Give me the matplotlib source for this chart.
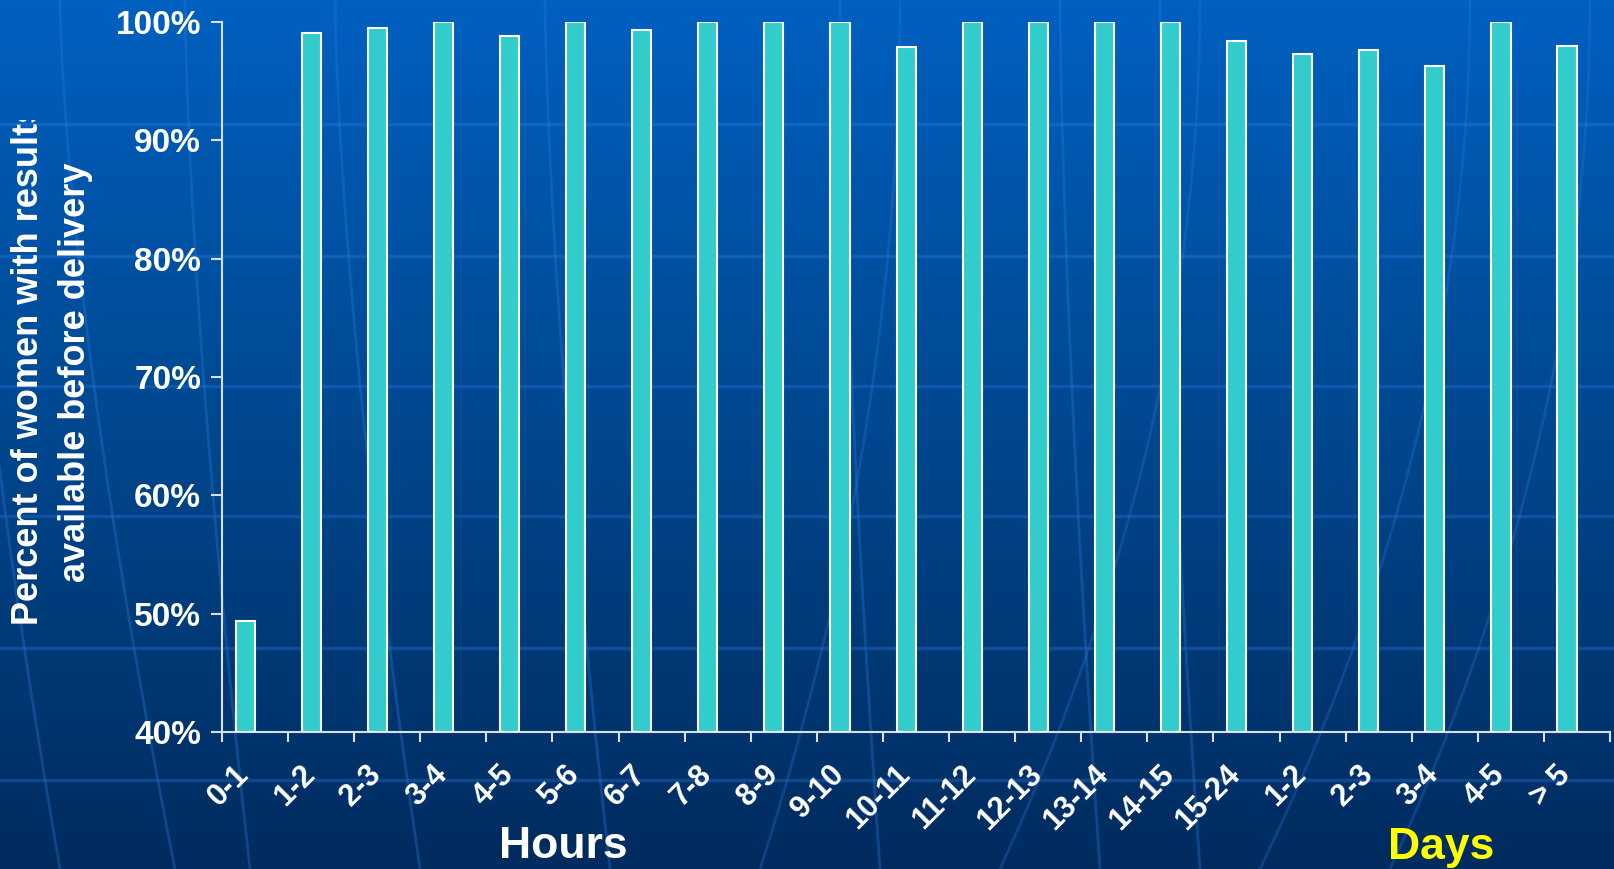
import numpy as np
import matplotlib
matplotlib.use("Agg")
import matplotlib.pyplot as plt
from matplotlib.colors import LinearSegmentedColormap
from matplotlib.transforms import Bbox, TransformedBbox

plt.rcParams['font.family'] = ['Liberation Sans', 'DejaVu Sans']

# categories: first 16 are hours, last 5 are days
categories = ['0-1', '1-2', '2-3', '3-4', '4-5', '5-6', '6-7', '7-8', '8-9', '9-10',
              '10-11', '11-12', '12-13', '13-14', '14-15', '15-24',
              '1-2', '2-3', '3-4', '4-5', '> 5']
percent = [49.4, 99.1, 99.5, 100.0, 98.8, 100.0, 99.3, 100.0, 100.0, 100.0,
           97.9, 100.0, 100.0, 100.0, 100.0, 98.4,
           97.3, 97.6, 96.3, 100.0, 98.0]
yticks = [40, 50, 60, 70, 80, 90, 100]

W, H = 1615, 869
fig = plt.figure(figsize=(W / 100, H / 100), dpi=100)

# slide background: vertical gradient with faint decoration
bg = fig.add_axes([0, 0, 1, 1], zorder=0)
cmap = LinearSegmentedColormap.from_list('slide', ['#002b5e', '#00478e', '#0060c0'])
grad = np.linspace(0, 1, 256).reshape(-1, 1)
bg.imshow(grad, cmap=cmap, aspect='auto', extent=[0, W, 0, H], origin='lower')
for yy in [124, 256, 386, 516, 648, 780]:
    bg.axhline(H - yy, color='#3a8cff', alpha=0.25, lw=2.5)
# globe-like meridians (decoration)
ys = np.linspace(0, H, 200)
for xa, xb in [(-40, 60), (60, 175), (185, 250), (335, 420), (545, 610),
               (840, 880), (1060, 1100), (1160, 1200)]:
    xs = xa + (xb - xa) * (1 - ys / H) ** 1.5
    bg.plot(xs, ys, color='#2a78d8', alpha=0.35, lw=2)
for xa, xb in [(1390, 1590), (1260, 1470), (1000, 1200), (760, 900)]:
    xs = xa + (xb - xa) * (1 - (ys / H - 1) ** 2)
    bg.plot(xs, ys, color='#2a78d8', alpha=0.3, lw=2)
bg.set_xlim(0, W)
bg.set_ylim(0, H)
bg.axis('off')

# main chart
left, right, top, bottom = 222, 1610, 22, 732
ax = fig.add_axes([left / W, 1 - bottom / H, (right - left) / W, (bottom - top) / H], zorder=2)
ax.patch.set_alpha(0)

x = np.arange(len(categories)) + 0.35
ax.bar(x, [p - 40 for p in percent], bottom=40, width=0.29,
       color='#33cccc', edgecolor='white', linewidth=1.5, zorder=3)

ax.set_xlim(0, len(categories))
ax.set_ylim(40, 100)
ax.set_yticks(yticks)
ax.set_yticklabels(['%d%%' % v for v in yticks])

ax.set_xticks(np.arange(len(categories) + 1))
ax.set_xticklabels([])
ax.set_xticks(x - 0.17, minor=True)
ax.set_xticklabels(categories, minor=True, rotation=45, ha='right', va='top',
                   rotation_mode='anchor', fontsize=22, fontweight='bold', color='white')
ax.tick_params(axis='x', which='minor', length=0, pad=20)
ax.tick_params(axis='x', which='major', length=7, width=1.5, color='#d8e0ee')
ax.tick_params(axis='y', length=8, width=1.5, color='#d8e0ee', pad=7,
               labelsize=24, labelcolor='white')
for lab in ax.get_yticklabels():
    lab.set_fontweight('bold')

for s in ['top', 'right']:
    ax.spines[s].set_visible(False)
for s in ['left', 'bottom']:
    ax.spines[s].set_color('#d8e0ee')
    ax.spines[s].set_linewidth(1.5)

# y label, two lines (first line clipped by its text box on the slide)
clip = TransformedBbox(Bbox.from_extents(0, 0, 1, 1 - 120 / H), fig.transFigure)
t1 = fig.text(28 / W, 1 - 625 / H, 'Percent of women with results', rotation=90,
              rotation_mode='anchor', ha='left', va='center', fontsize=26,
              fontweight='bold', color='white', zorder=3)
t1.set_clip_on(True)
t1.set_clip_box(clip)
fig.text(76 / W, 1 - 582 / H, 'available before delivery', rotation=90,
         rotation_mode='anchor', ha='left', va='center', fontsize=26,
         fontweight='bold', color='white', zorder=3)

fig.text(563 / W, 1 - 847 / H, 'Hours', ha='center', va='center', fontsize=32,
         fontweight='bold', color='white', zorder=3)
fig.text(1441 / W, 1 - 847 / H, 'Days', ha='center', va='center', fontsize=32,
         fontweight='bold', color='#ffff00', zorder=3)

fig.savefig('out.png', dpi=100)
